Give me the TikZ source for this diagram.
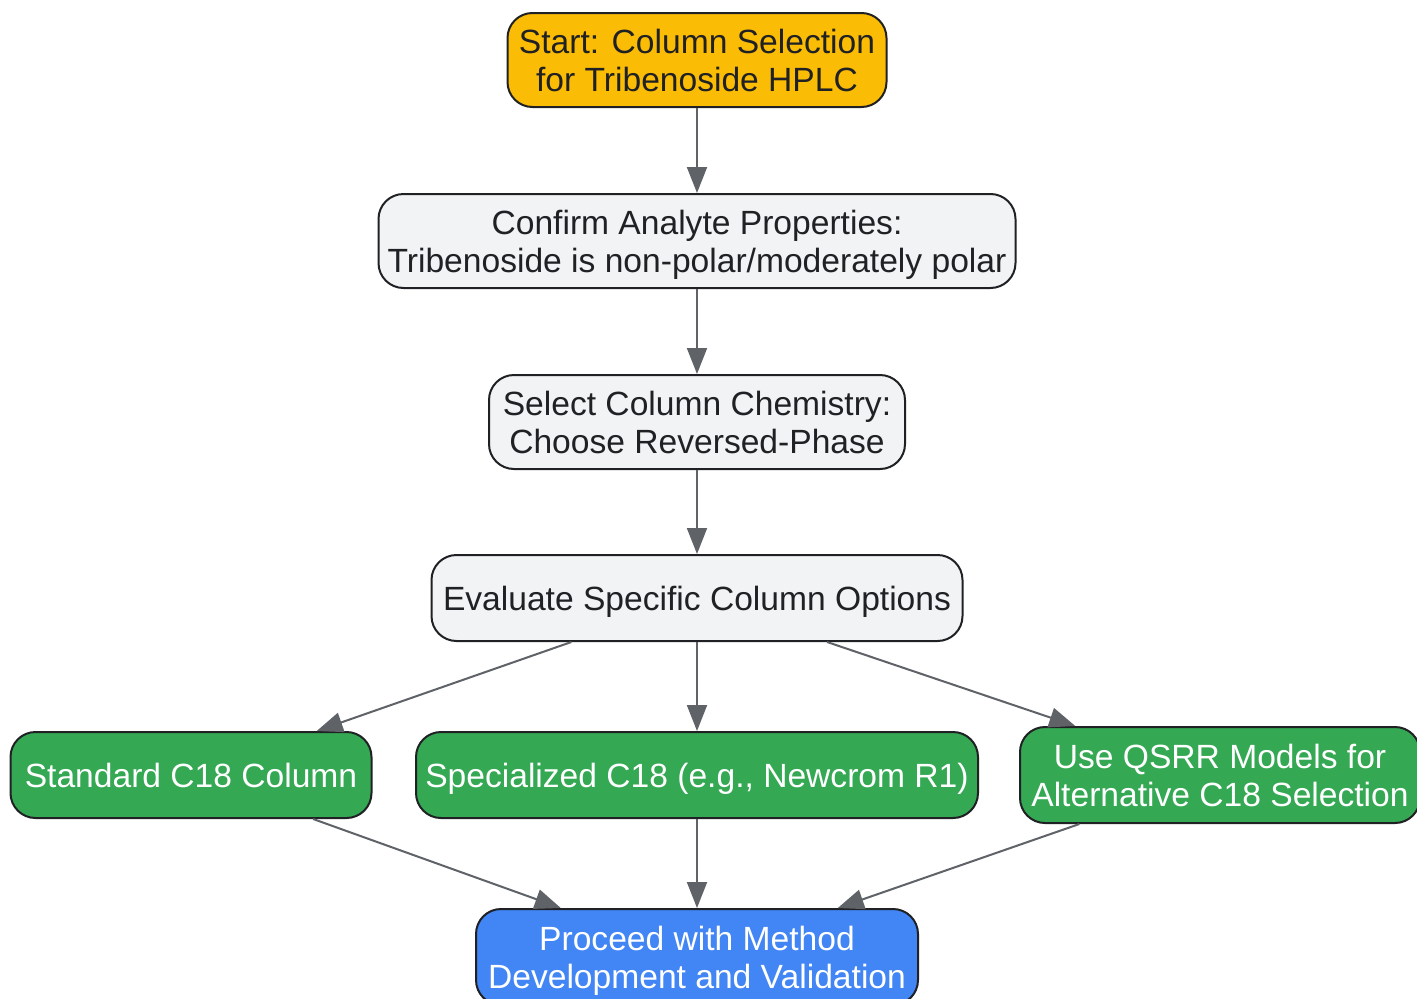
\documentclass[tikz,border=0pt]{standalone}
\usepackage{fontspec}
\setmainfont{Liberation Sans}
\usetikzlibrary{positioning, arrows.meta}

\definecolor{startfill}{HTML}{FBBC05}
\definecolor{stepfill}{HTML}{F1F3F4}
\definecolor{optionfill}{HTML}{34A853}
\definecolor{endfill}{HTML}{4285F4}
\definecolor{boxline}{HTML}{202124}
\definecolor{linkgrey}{HTML}{5F6368}

\begin{document}
\begin{tikzpicture}[x=1pt,y=-1pt,node distance=181pt,on grid,
    box/.style={draw=boxline, line width=2pt, rounded corners=25pt, align=center,
      font=\fontsize{33.6}{38}\selectfont, inner sep=0pt, text depth=0pt, minimum height=94pt},
    startbox/.style={box, fill=startfill, text=boxline},
    stepbox/.style={box, fill=stepfill, text=boxline},
    optionbox/.style={box, fill=optionfill, text=white, minimum height=86pt},
    endbox/.style={box, fill=endfill, text=white, minimum height=96pt},
    link/.style={draw=linkgrey, line width=2pt, -{Triangle[length=26pt,width=20pt]}}]
  \useasboundingbox (0,0) rectangle (1417,999);
  \fill[white] (0,0) rectangle (1417,999);
  \node[startbox, minimum width=379pt] (start) at (697,60) {Start: Column Selection\\for Tribenoside HPLC};
  \node[stepbox, minimum width=637pt] (confirm) [below=of start] {Confirm Analyte Properties:\\Tribenoside is non-polar/moderately polar};
  \node[stepbox, minimum width=416pt] (select) [below=of confirm] {Select Column Chemistry:\\Choose Reversed-Phase};
  \node[stepbox, minimum width=531pt, minimum height=86pt] (evaluate) [below=176pt of select] {Evaluate Specific Column Options};
  \node[optionbox, minimum width=562pt] (special) [below=177pt of evaluate] {Specialized C18 (e.g., Newcrom R1)};
  \node[optionbox, minimum width=361pt] (standard) [left=506pt of special] {Standard C18 Column};
  \node[optionbox, minimum width=400pt, minimum height=96pt] (qsrr) [right=523pt of special] {Use QSRR Models for\\Alternative C18 Selection};
  \node[endbox, minimum width=442pt] (proceed) [below=182pt of special] {Proceed with Method\\Development and Validation};
  \draw[link] (start) -- (confirm);
  \draw[link] (confirm) -- (select);
  \draw[link] (select) -- (evaluate);
  \draw[link] (evaluate) -- (standard);
  \draw[link] (evaluate) -- (special);
  \draw[link] (evaluate) -- (qsrr);
  \draw[link] (standard) -- (proceed);
  \draw[link] (special) -- (proceed);
  \draw[link] (qsrr) -- (proceed);
\end{tikzpicture}
\end{document}
